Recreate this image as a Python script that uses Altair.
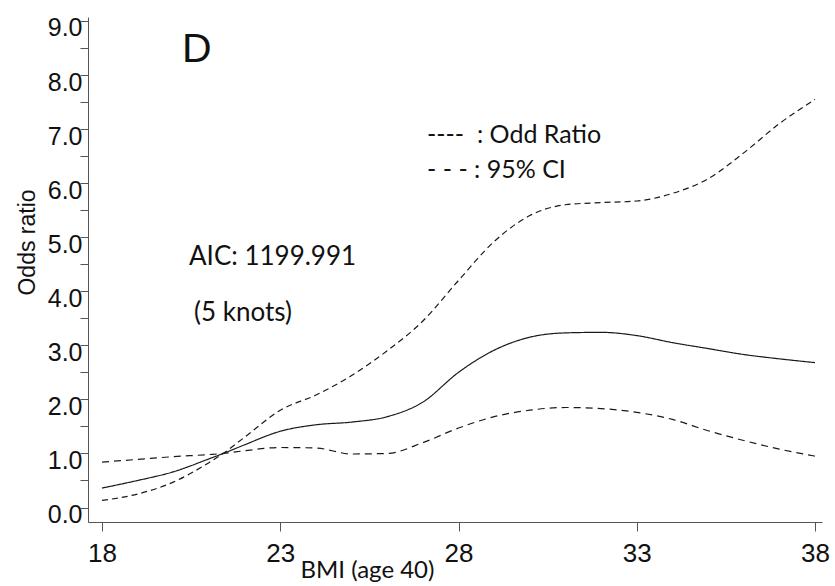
import altair as alt
import pandas as pd

# BMI values (x)
bmi = [18, 19, 20, 21, 21.4, 22, 23, 24, 25, 26, 27, 28, 29, 30, 31, 32, 33, 34, 35, 36, 37, 38]
# Odds ratio (solid line)
odds_ratio = [0.36, 0.50, 0.66, 0.90, 1.00, 1.16, 1.41, 1.53, 1.58, 1.68, 1.95, 2.50, 2.91,
              3.15, 3.23, 3.24, 3.18, 3.05, 2.94, 2.83, 2.75, 2.68]
# 95% CI curve that rises steeply (dashed)
ci_a = [0.13, 0.25, 0.47, 0.83, 1.00, 1.30, 1.80, 2.08, 2.44, 2.90, 3.45, 4.20, 4.92,
        5.40, 5.60, 5.64, 5.67, 5.81, 6.08, 6.56, 7.10, 7.55]
# 95% CI curve that stays flat (dashed)
ci_b = [0.84, 0.89, 0.94, 0.98, 1.00, 1.05, 1.11, 1.10, 0.99, 1.00, 1.20, 1.47, 1.68,
        1.80, 1.85, 1.83, 1.76, 1.63, 1.42, 1.24, 1.08, 0.95]

series_names = ["Odd Ratio", "95% CI a", "95% CI b"]
series_values = [odds_ratio, ci_a, ci_b]

x_ticks = [18, 23, 28, 33, 38]
y_ticks = [i / 2 for i in range(0, 19)]

rows = []
for name, vals in zip(series_names, series_values):
    for xv, yv in zip(bmi, vals):
        rows.append({"bmi": xv, "value": yv, "series": name})
df = pd.DataFrame(rows)

W, H = 734, 505

x_scale = alt.Scale(domain=[17.607, 38.196], nice=False, zero=False)
y_scale = alt.Scale(domain=[-0.268, 9.073], nice=False, zero=False)

lines = alt.Chart(df).mark_line(
    interpolate="monotone", color="#1a1a1a", strokeWidth=1.2
).encode(
    x=alt.X("bmi:Q", scale=x_scale,
            axis=alt.Axis(values=x_ticks, title="BMI (age 40)", grid=False,
                          domainColor="#555555", tickColor="#555555",
                          tickSize=9, labelPadding=30, labelBaseline="alphabetic",
                          labelFont="Liberation Sans", labelFontSize=26,
                          labelColor="#111111", labelFlush=False,
                          titleFont="Lato", titleFontSize=24, titleFontWeight="normal",
                          titleColor="#111111", titleX=279, titleY=55,
                          titleAlign="center", titleBaseline="alphabetic")),
    y=alt.Y("value:Q", scale=y_scale,
            axis=alt.Axis(values=y_ticks, title="Odds ratio", grid=False,
                          labelExpr="datum.value % 1 == 0 ? format(datum.value, '.1f') : ''",
                          domainColor="#555555", tickColor="#555555",
                          tickSize=8, labelPadding=-2, labelBaseline="alphabetic",
                          labelOffset=15,
                          labelFont="Liberation Sans", labelFontSize=25,
                          labelColor="#111111", labelFlush=False,
                          titleFont="Liberation Sans", titleFontSize=23,
                          titleFontWeight="normal", titleColor="#111111",
                          titleAngle=270, titleX=-54, titleY=225,
                          titleAlign="center", titleBaseline="alphabetic")),
    strokeDash=alt.StrokeDash("series:N",
                              scale=alt.Scale(domain=series_names,
                                              range=[[1, 0], [6, 4], [7, 5]]),
                              legend=None),
    detail="series:N",
)

ann_text = ["D", "AIC: 1199.991", "(5 knots)", "----\u00a0\u00a0: Odd Ratio", "- - - : 95% CI"]

def txt(s, x, y, font, size):
    return alt.Chart(pd.DataFrame({"t": [s]})).mark_text(
        align="left", baseline="alphabetic", font=font, fontSize=size, color="#111111"
    ).encode(text="t:N", x=alt.value(x), y=alt.value(y))

texts = [
    txt(ann_text[0], 94, 45, "Liberation Sans", 41),
    txt(ann_text[1], 101, 248, "Lato", 26),
    txt(ann_text[2], 106, 304, "Lato", 26),
    txt(ann_text[3], 339, 126, "Lato", 25),
    txt(ann_text[4], 339, 161, "Lato", 25),
]

chart = alt.layer(lines, *texts).properties(
    width=W, height=H,
    autosize=alt.AutoSizeParams(type="none"),
    padding={"left": 88, "top": 17, "right": 13, "bottom": 64},
    background="white",
).configure_view(stroke=None)

chart.save("out.html", embed_options={"renderer": "svg", "actions": False})
